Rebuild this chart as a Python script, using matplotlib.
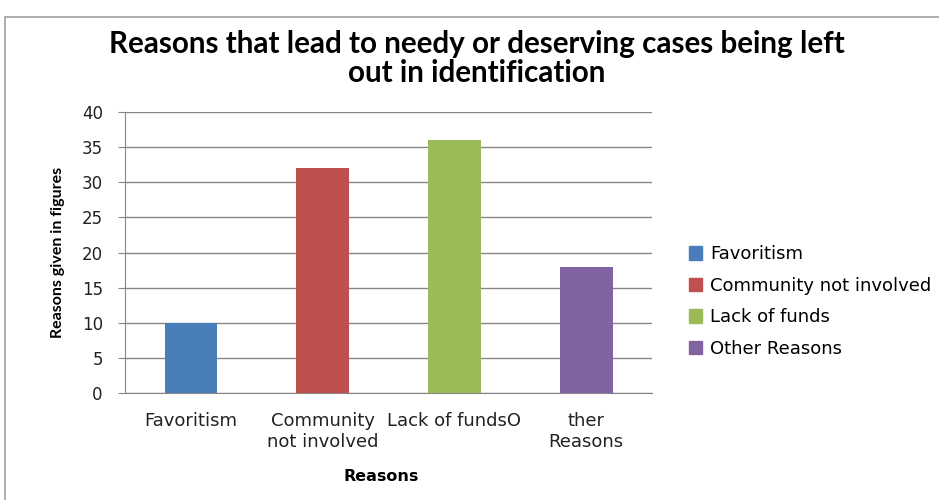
import matplotlib.pyplot as plt
import matplotlib.patches as mpatches
import numpy as np

categories = ['Favoritism', 'Community\nnot involved', 'Lack of fundsO', 'ther\nReasons']
legend_labels = ['Favoritism', 'Community not involved', 'Lack of funds', 'Other Reasons']
values = [10, 32, 36, 18]
colors = ['#4A7EBB', '#C0504D', '#9BBB59', '#8064A2']

fig = plt.figure(figsize=(9.39, 5.0), dpi=100)
ax = fig.add_axes([0.1331, 0.214, 0.5613, 0.562])

x = np.arange(len(values))
ax.bar(x, values, width=0.4, color=colors, zorder=3)

ax.set_xlim(-0.5, len(values) - 0.5)
ax.set_ylim(0, 40)
ax.set_yticks(range(0, 41, 5))
ax.set_xticks(x)
ax.set_xticklabels(categories, fontsize=13, family='DejaVu Sans', color='#222222',
                   linespacing=1.2)
for lab in ax.get_yticklabels():
    lab.set_fontsize(12)
    lab.set_color('#222222')

ax.grid(axis='y', color='#868686', linewidth=1, zorder=0)
for s in ['top', 'right']:
    ax.spines[s].set_visible(False)
ax.spines['left'].set_color('#868686')
ax.spines['bottom'].set_color('#868686')
ax.tick_params(axis='y', length=5, color='#868686', pad=11)
ax.tick_params(axis='x', length=0, pad=14)

ax.set_ylabel('Reasons given in figures', fontsize=11.5, fontweight='bold',
              family=['Lato', 'DejaVu Sans'], labelpad=12)
ax.set_xlabel('Reasons', fontsize=11.5, fontweight='bold', family='DejaVu Sans')
ax.xaxis.set_label_coords(0.487, -0.272)

fig.text(0.508, 0.883, 'Reasons that lead to needy or deserving cases being left\nout in identification',
         ha='center', va='center', fontsize=21.3, fontweight='bold',
         family=['Lato', 'DejaVu Sans'], linespacing=1.05)

handles = [mpatches.Patch(color=c, label=l) for c, l in zip(colors, legend_labels)]
fig.legend(handles=handles, loc='center left', bbox_to_anchor=(0.716, 0.397),
           frameon=False, handlelength=0.75, handleheight=0.75,
           handletextpad=0.45, labelspacing=0.75, prop={'family': 'DejaVu Sans', 'size': 13})

# outer chart border
fig.patches.append(mpatches.Rectangle((5 / 939, -0.1), 1.2, (483 / 500) + 0.1,
                                      transform=fig.transFigure, fill=False,
                                      edgecolor='#A0A0A0', linewidth=1.2))

fig.savefig('out.png', dpi=100)
